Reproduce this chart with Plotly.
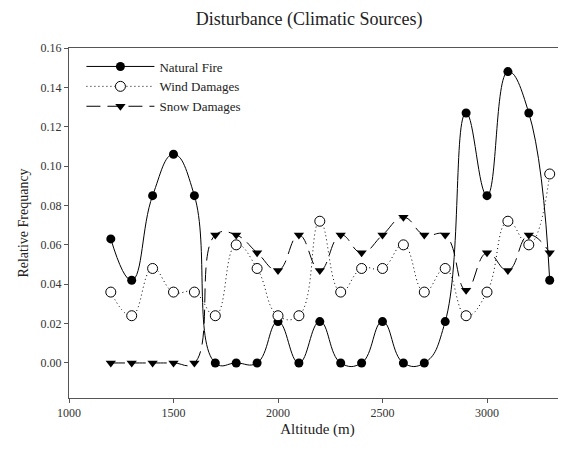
import plotly.graph_objects as go

altitude = [1200, 1300, 1400, 1500, 1600, 1700, 1800, 1900, 2000, 2100, 2200,
            2300, 2400, 2500, 2600, 2700, 2800, 2900, 3000, 3100, 3200, 3300]

natural_fire = [0.063, 0.042, 0.085, 0.106, 0.085, 0.0, 0.0, 0.0, 0.021, 0.0, 0.021,
                0.0, 0.0, 0.021, 0.0, 0.0, 0.021, 0.127, 0.085, 0.148, 0.127, 0.042]

wind_damages = [0.036, 0.024, 0.048, 0.036, 0.036, 0.024, 0.060, 0.048, 0.024, 0.024, 0.072,
                0.036, 0.048, 0.048, 0.060, 0.036, 0.048, 0.024, 0.036, 0.072, 0.060, 0.096]

snow_damages = [0.0, 0.0, 0.0, 0.0, 0.0, 0.065, 0.065, 0.056, 0.047, 0.065, 0.047,
                0.065, 0.056, 0.065, 0.074, 0.065, 0.065, 0.037, 0.056, 0.047, 0.065, 0.056]

serif = "Liberation Serif, Times New Roman, serif"

fig = go.Figure()

fig.add_trace(go.Scatter(
    x=altitude, y=natural_fire, name="Natural Fire", mode="lines+markers",
    line=dict(color="black", width=1, shape="spline", smoothing=1.3),
    marker=dict(symbol="circle", size=9, color="black")))

fig.add_trace(go.Scatter(
    x=altitude, y=wind_damages, name="Wind Damages", mode="lines+markers",
    line=dict(color="black", width=1, dash="1px,3px", shape="spline", smoothing=1.3),
    marker=dict(symbol="circle", size=10, color="white", line=dict(width=1, color="black"))))

fig.add_trace(go.Scatter(
    x=altitude, y=snow_damages, name="Snow Damages", mode="lines+markers",
    line=dict(color="black", width=1, dash="14px,7px", shape="spline", smoothing=1.3),
    marker=dict(symbol="triangle-down", size=9, color="black")))

# the page body has a default 8px margin, so margins are shifted to compensate
fig.update_layout(
    width=566, height=450,
    margin=dict(l=61, r=8, t=40, b=60),
    paper_bgcolor="white", plot_bgcolor="white",
    font=dict(family=serif, size=12, color="#222"),
    title=dict(text="Disturbance (Climatic Sources)", x=0.532, xanchor="center",
               y=0.977, yanchor="middle", font=dict(family=serif, size=18, color="#222")),
    legend=dict(x=0.025, y=0.99, xanchor="left", yanchor="top",
                bgcolor="rgba(0,0,0,0)", font=dict(family=serif, size=13),
                tracegroupgap=0, itemwidth=68),
    showlegend=True,
)

fig.update_xaxes(
    range=[1000, 3378], tickvals=[1000, 1500, 2000, 2500, 3000],
    showgrid=False, zeroline=False, showline=True, linecolor="#555", linewidth=1,
    mirror=True, ticks="outside", ticklen=4, tickcolor="#555",
    title=dict(text="Altitude (m)", font=dict(family=serif, size=15), standoff=4),
    tickfont=dict(family=serif, size=12, color="#333"))

fig.update_yaxes(
    range=[-0.0178, 0.16], tickvals=[0.0, 0.02, 0.04, 0.06, 0.08, 0.10, 0.12, 0.14, 0.16],
    tickformat=".2f",
    showgrid=False, zeroline=False, showline=True, linecolor="#555", linewidth=1,
    ticks="outside", ticklen=4, tickcolor="#555",
    title=dict(text="Relative Frequancy", font=dict(family=serif, size=14), standoff=8),
    tickfont=dict(family=serif, size=12, color="#333"))

fig.write_html("out.html")
